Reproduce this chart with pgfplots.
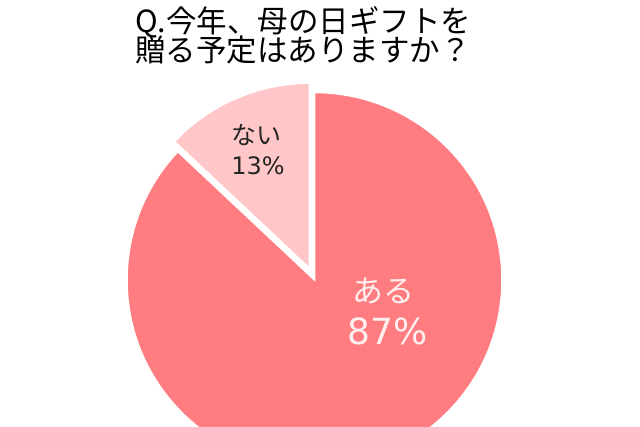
\documentclass[border=0pt]{standalone}
\usepackage{fontspec}
\usepackage{pgfplots}
\usepackage{pgfplotstable}
\pgfplotsset{compat=1.18}
\usepgfplotslibrary{polar}
\setmainfont{Noto Sans CJK JP}
\newfontfamily\numfont{DejaVu Sans}
\definecolor{aru}{HTML}{FF7C80}
\definecolor{nai}{HTML}{FFC7C7}
\definecolor{labwhite}{HTML}{FFF0F0}

% answer share in percent
\pgfplotstableread{
answer value
yes 87
no 13
}\piedata

\begin{document}
\begin{tikzpicture}
\useasboundingbox (0,0) rectangle (640pt,426pt);
\fill[white] (0,0) rectangle (640pt,426pt);
\clip (0,0) rectangle (640pt,426pt);
\pgfplotstablegetelem{0}{value}\of\piedata \let\vyes\pgfplotsretval
\pgfplotstablegetelem{1}{value}\of\piedata \let\vno\pgfplotsretval
\pgfmathsetmacro\angno{90+3.6*\vno}
\pgfmathsetmacro\midno{90+1.8*\vno}
\begin{polaraxis}[
  at={(314.5pt,146pt)}, anchor=center,
  scale only axis, width=375pt, height=375pt,
  xmin=0, xmax=360, ymin=0, ymax=187.5,
  hide axis, clip=false,
]
  % ある
  \filldraw[fill=aru, draw=white, line width=1.5pt]
    (axis cs:0,0) -- (axis cs:\angno,187.5)
    arc[start angle=\angno, end angle=450, radius=187.5pt] -- cycle;
  % ない (pulled out)
  \filldraw[fill=nai, draw=white, line width=3pt, shift={(\midno:11pt)}]
    (axis cs:0,0) -- (axis cs:90,187.5)
    arc[start angle=90, end angle=\angno, radius=187.5pt] -- cycle;
\end{polaraxis}

\node[anchor=base west, inner sep=0, font=\fontsize{30.5}{30.5}\selectfont]
  at (135pt,393pt) {Q.今年、母の日ギフトを};
\node[anchor=base west, inner sep=0, font=\fontsize{30.5}{30.5}\selectfont]
  at (135pt,364pt) {贈る予定はありますか？};

\node[inner sep=0, font=\fontsize{25}{25}\selectfont, text=black!85] at (256pt,291pt) {ない};
\node[inner sep=0, font=\numfont\fontsize{24}{24}\selectfont, text=black!85] at (258pt,260pt) {\vno\%};
\node[inner sep=0, font=\fontsize{31}{31}\selectfont, text=labwhite] at (383pt,135pt) {ある};
\node[inner sep=0, font=\numfont\fontsize{36}{36}\selectfont, text=labwhite] at (388pt,95pt) {\vyes\%};
\end{tikzpicture}
\end{document}
